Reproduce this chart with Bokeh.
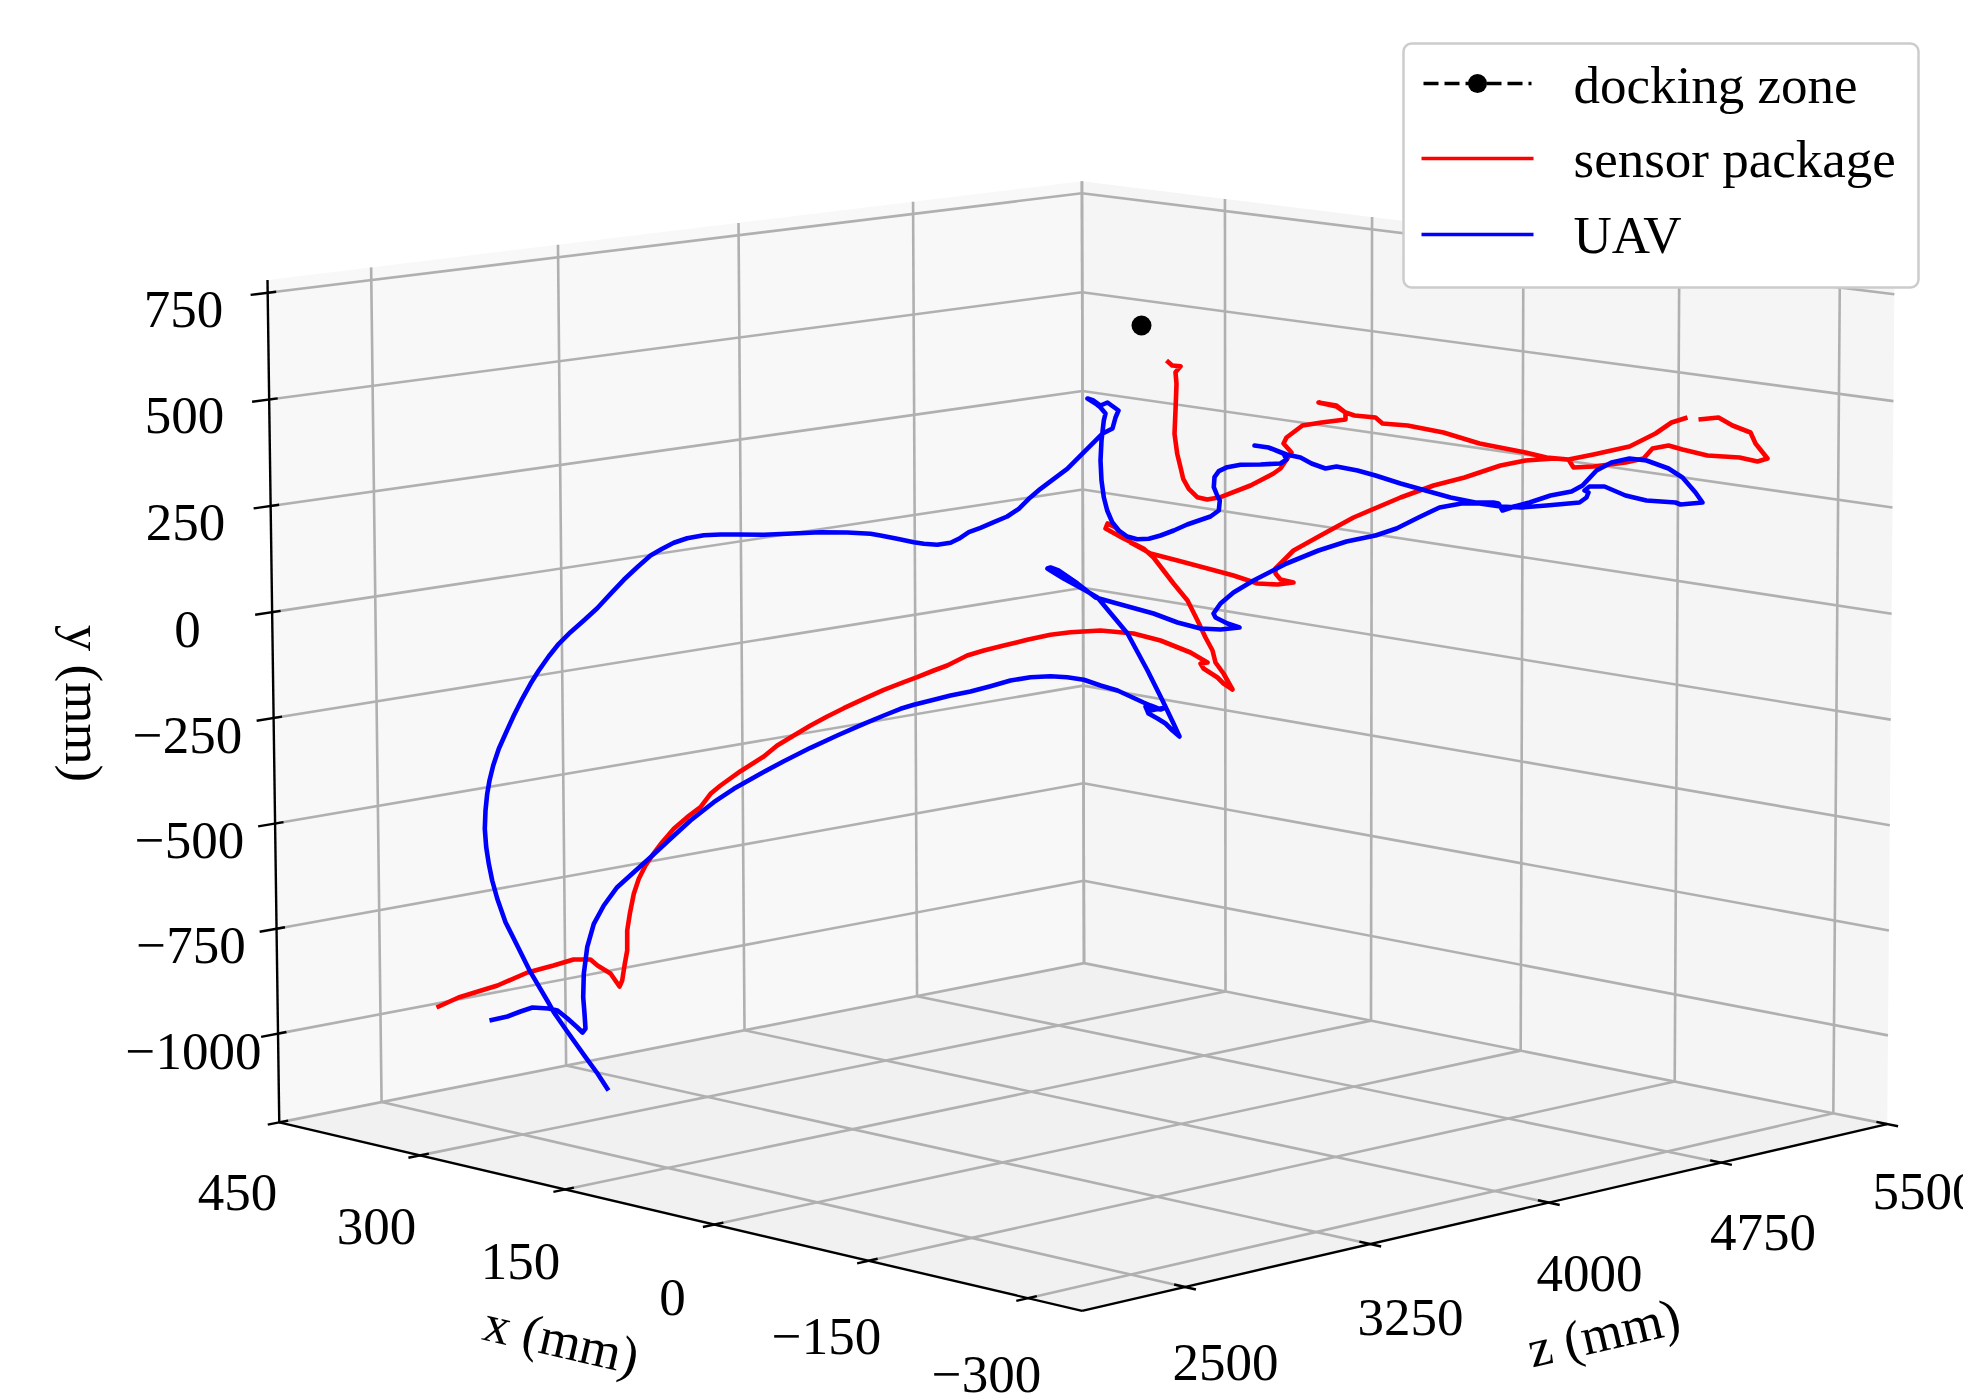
import numpy as np
from bokeh.plotting import figure
from bokeh.models import Range1d
from bokeh.core.properties import value
from bokeh.embed import file_html
from bokeh.resources import INLINE

# ---- tick values (mm) and tick labels
x_ticks = [450, 300, 150, 0, -150, -300]
y_ticks = [750, 500, 250, 0, -250, -500, -750, -1000]
z_ticks = [2500, 3250, 4000, 4750, 5500]
x_labels = ["450", "300", "150", "0", "\u2212150", "\u2212300"]
y_labels = ["750", "500", "250", "0", "\u2212250", "\u2212500", "\u2212750", "\u22121000"]
z_labels = ["2500", "3250", "4000", "4750", "5500"]
series_names = ["docking zone", "sensor package", "UAV"]
x_title, y_title, z_title = "x (mm)", "y (mm)", "z (mm)"

# ---- series, on the drawing plane of the 3-D view
nan = float("nan")
sensor_u = [436,458,497,527,553,573,590,597,610,619,621.7,624,626.7,626.7,629.3,633.3,638.3,645,651.7,661.7,673.3,686.7,700,710,720,740,763.3,776.7,793.3,810,826.7,843.3,863.3,883.3,903.3,916.7,933.3,946.7,966.7,983.3,1003.3,1026.7,1050,1070,1100,1133,1160,1190,1207,1200,1203,1217,1223,1232,1223,1215,1212,1205,1197,1187,1173,1153,1143,1123,1105,1107,1115,1130,1150,1177,1207,1233,1257,1277,1293,1280,1275,1275,1293,1320,1353,1400,1433,1464,1500,1525,1554,1568,1573,1593,1625,1643,1652,1668,1682,1707,1739,1757,1767,1755,1750,1732,1718,1698,nan,1687,1671,1655,1629,1593,1568,1546,1525,1479,1443,1407,1382,1375,1354,1345,1336,1318,1336,1345,1345,1321,1302,1286,1283,1291,1280,1273,1250,1220,1206.7,1196.7,1188.3,1182.7,1180,1176.7,1174,1175,1176,1175,1180,1171.7,1166]
sensor_v = [1007,997,985,972,965,959,959,965,973,986,980,965,950,930,913.3,893.3,878.3,865,855,841.7,828.3,816.7,806.7,793.3,785,770.7,756,745,735,725,716,707.7,698.3,689.3,681.7,676.7,670,665,655,650,645,639.3,634.3,631.7,630,633,640,652,662,663,668,677,683,689,673,662,650,637,620,600,583,557,548,538,528,523,527,542,553,560,568,575,583,584,582,579,573,568,550,535,517,497,485,477,465,460,458,459,467,466,462,458,448,445,449,455,457,461,458,443,432,425,417,419,nan,417,422,433,446,454,459,457,452,443,432,425,423,417,415,412,405,402,406,412,419,422,425,437,443,452,468,473,485,496.7,499,496.7,488.3,478.3,466.7,453.3,433.3,410,383.3,371.7,365.7,365,360]
uav_u = [489,507,520,532,548,557,567,577,582,585,584,582.7,583.3,586.7,593.3,603.3,616.7,633.3,650,670,690,713.3,733.3,760,783.3,810,836.7,863.3,883.3,900,913.3,933.3,950,970,990,1010,1030,1050,1066.7,1083.3,1100,1117,1143,1150,1160,1165,1150,1145,1148,1157,1165,1172,1179,1173,1162,1147,1127,1097,1085,1063,1050,1047,1050,1058,1077,1095,1113,1153,1177,1200,1220,1239,1227,1215,1213,1220,1233,1253,1286,1318,1346,1375,1396,1418,1439,1461,1479,1500,1521,1546,1579,1586,1588,1584,1589,1604,1625,1646,1675,1680,1702,1695,1682,1668,1646,1629,1611,1596,1582,1571,1550,1529,1514,1502,1498,1493,1475,1450,1425,1400,1375,1357,1336,1325,1311,1300,1286,1268,1254,1268,1283,1286,1280,1260,1240,1226.7,1218.3,1214,1213.3,1216.7,1219.3,1218.3,1210,1198.3,1186.7,1173.3,1160,1148.3,1136.7,1126.7,1118.3,1111.7,1106.7,1103.3,1101,1100,1101,1103.3,1105,1100,1095,1087,1093,1100,1107,1118,1115,1112,1101.7,1081.7,1066.7,1053.3,1040,1028.3,1018.3,1006.7,993.3,980,968.3,958.3,950,936.7,923.3,913.3,896.7,880,870,846.7,820,786.7,763.3,736.7,720,703.3,686.7,673.3,661.7,650,636.7,623.3,610,596.7,583.3,570,558.3,548.3,538.3,530,521.7,513.3,505,498.3,492.7,489,486.7,485,484.3,485.7,488.3,491.7,496.7,505,516.7,530,546.7,553.3,566,585,597,608]
uav_v = [1020,1016,1011,1007,1008,1010,1018,1027,1032,1028,1013,996.7,973.3,946.7,923.3,905,886.7,871.7,856.7,838.3,820,801.7,788.3,773.3,760.7,747.3,735,723.3,715,708.3,704.3,699.3,695,691,685.7,680,676.7,675.7,676.7,679.3,685,690,702,705,709,707,710,706,713,718,723,730,736,723,700,670,633,597,590,578,570,568,567,570,583,597,602,613,622,628,629,627,623,617,613,603,592,580,563,550,541,535,528,517,507,503,503,506,507,505,502,497,492,490,486,486,495,500,502,504,502,492,477,468,460,458,462,470,485,491,495,502,506,510,503,502,502,497,490,483,475,470,466,468,463,457,454,447,445,447,453,459,463,464,464.3,466.7,470.7,476.7,486.7,495,500,510,516,520,524,530,535,538.3,538.7,536,530,521.7,510,496.7,480,460,440,420,413,407,403,398,400,405,402,410,417,428,433.3,453.3,468.3,478.3,488.3,498.3,508.3,516,521.7,527.3,531.7,538.3,542.3,544.3,543.3,541.7,538.3,535,533.3,532,531.7,533.3,534.3,534,534,534.7,537.7,542.3,548.3,555,566.7,579.3,593.3,607.7,620,631.7,643.3,655.7,670,683.3,698.3,715,733.3,748.3,765,780,793.3,810,828.3,846.7,863.3,880,898,921.7,945,971.7,1000,1011.7,1030,1056.7,1073,1090]
dock_u = [1141]
dock_v = [325]

# ---- box limits of the 3-D axes (mm)
x_lo, x_hi = -350.0, 450.0
y_lo, y_hi = -1212.0, 780.0
z_lo, z_hi = 2095.0, 5500.0

# ---- camera of the 3-D view, calibrated on where the box and ticks fall
anchors = [
    (x_hi, y_lo, z_lo, 281, 1122), (x_hi, y_hi, z_lo, 267, 278), (x_lo, y_lo, z_lo, 1080, 1310),
    (x_lo, y_lo, z_hi, 1883, 1122), (x_lo, y_hi, z_hi, 1895, 280), (x_hi, y_lo, z_hi, 1082, 962),
    (x_hi, y_hi, z_hi, 1082, 182),
]
for t, u, v in zip(x_ticks[1:], [419, 565, 714, 870, 1029], [1156, 1190, 1225, 1262, 1300]):
    anchors.append((t, y_lo, z_lo, u, v))
for t, u, v in zip(x_ticks[1:], [1226, 1373, 1524, 1680, 1833], [991, 1020, 1050, 1082, 1112]):
    anchors.append((t, y_lo, z_hi, u, v))
for t, u, v in zip(z_ticks[:4], [1184, 1367, 1545, 1720], [1287, 1243, 1202, 1161]):
    anchors.append((x_lo, y_lo, t, u, v))
for t, u, v in zip(z_ticks[:4], [379, 563, 744, 915], [1102, 1066, 1029.5, 995]):
    anchors.append((x_hi, y_lo, t, u, v))
for t, u, v in zip(z_ticks[:4], [368, 556, 737, 913], [266, 244, 223, 202]):
    anchors.append((x_hi, y_hi, t, u, v))
for t, u, v in zip(y_ticks, [268, 269, 271, 272.5, 274, 275.5, 277, 279], [291, 398.5, 505, 611, 717, 822.6, 928, 1032]):
    anchors.append((x_hi, t, z_lo, u, v))
for t, v in zip(y_ticks, [195, 293, 391, 489, 588, 685, 782, 879]):
    anchors.append((x_hi, t, z_hi, 1082, v))

rows = []
for X, Y, Z, u, v in anchors:
    P3 = [X / 1000, Y / 1000, Z / 1000, 1]
    U, V = u / 1000, v / 1000
    rows.append(P3 + [0, 0, 0, 0] + [-U * c for c in P3])
    rows.append([0, 0, 0, 0] + P3 + [-V * c for c in P3])
camera = np.linalg.svd(np.array(rows))[2][-1].reshape(3, 4)


def project(X, Y, Z):
    h = camera @ np.array([X / 1000, Y / 1000, Z / 1000, 1.0])
    return 1000 * h[0] / h[2], 1000 * h[1] / h[2]


def seg(a, b):
    pa, pb = project(*a), project(*b)
    return [pa[0], pb[0]], [pa[1], pb[1]]


def pane(*corners):
    pts = [project(*c) for c in corners]
    return [q[0] for q in pts], [q[1] for q in pts]


p = figure(width=1963, height=1398, x_range=Range1d(0, 1963), y_range=Range1d(1398, 0),
           output_backend="svg", toolbar_location=None, min_border=0,
           background_fill_color="white", border_fill_color="white", outline_line_color=None)
p.axis.visible = False
p.grid.visible = False

FONT = value("Liberation Serif")
SIZE = value("53px")

# panes
for corners, col in [
    (((x_hi, y_lo, z_lo), (x_hi, y_hi, z_lo), (x_hi, y_hi, z_hi), (x_hi, y_lo, z_hi)), "#f8f8f8"),
    (((x_hi, y_lo, z_hi), (x_hi, y_hi, z_hi), (x_lo, y_hi, z_hi), (x_lo, y_lo, z_hi)), "#f5f5f5"),
    (((x_hi, y_lo, z_lo), (x_lo, y_lo, z_lo), (x_lo, y_lo, z_hi), (x_hi, y_lo, z_hi)), "#f1f1f1"),
]:
    xs, ys = pane(*corners)
    p.patch(xs, ys, fill_color=col, line_color=None)

# grid lines
gx, gy = [], []
for t in x_ticks:
    for a, b in [((t, y_lo, z_lo), (t, y_lo, z_hi)), ((t, y_lo, z_hi), (t, y_hi, z_hi))]:
        s = seg(a, b); gx.append(s[0]); gy.append(s[1])
for t in y_ticks:
    for a, b in [((x_hi, t, z_lo), (x_hi, t, z_hi)), ((x_hi, t, z_hi), (x_lo, t, z_hi))]:
        s = seg(a, b); gx.append(s[0]); gy.append(s[1])
for t in z_ticks:
    for a, b in [((x_lo, y_lo, t), (x_hi, y_lo, t)), ((x_hi, y_lo, t), (x_hi, y_hi, t))]:
        s = seg(a, b); gx.append(s[0]); gy.append(s[1])
p.multi_line(gx, gy, line_color="#b0b0b0", line_width=2.6)

# axis lines and ticks
ax, ay = [], []
for a, b in [((x_hi, y_lo, z_lo), (x_hi, y_hi, z_lo)), ((x_hi, y_lo, z_lo), (x_lo, y_lo, z_lo)), ((x_lo, y_lo, z_lo), (x_lo, y_lo, z_hi))]:
    s = seg(a, b); ax.append(s[0]); ay.append(s[1])
for t in x_ticks:
    s = seg((t, y_lo, z_lo - 45), (t, y_lo, z_lo + 35)); ax.append(s[0]); ay.append(s[1])
for t in y_ticks:
    s = seg((x_hi, t, z_lo - 66), (x_hi, t, z_lo + 33)); ax.append(s[0]); ay.append(s[1])
for t in z_ticks:
    s = seg((x_lo - 10, y_lo, t), (x_lo + 10, y_lo, t)); ax.append(s[0]); ay.append(s[1])
p.multi_line(ax, ay, line_color="black", line_width=2.4)

# series
p.line(sensor_u, sensor_v, line_color="#ff0000", line_width=4.6, line_join="round")
p.line(uav_u, uav_v, line_color="#0000ff", line_width=4.6, line_join="round")
p.scatter(dock_u, dock_v, size=20, marker="circle", fill_color="black", line_color="black", line_width=0)


def labels(us, vs, texts, angle=0.0):
    p.text(us, vs, text=texts, text_font=FONT, text_font_size=SIZE, text_color="black",
           text_align="center", text_baseline="middle", angle=angle)


# tick labels and axis titles
labels([237, 376, 520, 672, 826, 986], [1192, 1226, 1261, 1297, 1336, 1374], x_labels)
labels([183, 184, 185, 187, 187, 189, 190.5, 193], [309, 415, 522, 629, 735, 840, 945, 1051], y_labels)
labels([1225, 1410, 1589, 1762.5, 1925], [1362, 1317, 1273, 1232, 1191], z_labels)
labels([561], [1339], [x_title], angle=np.radians(-13))
labels([83], [703], [y_title], angle=np.radians(-90))
labels([1603], [1332], [z_title], angle=np.radians(13))

# legend
p.quad(left=[1403], right=[1918], top=[43], bottom=[287], fill_color="white", line_color="#cccccc",
       line_width=2.5, border_radius=8)
p.line([1423, 1531], [83, 83], line_color="black", line_width=3.4, line_dash="15 6")
p.scatter([1477], [83], size=19, marker="circle", fill_color="black", line_color="black", line_width=0)
p.line([1421, 1533], [158, 158], line_color="#ff0000", line_width=3.6)
p.line([1421, 1533], [234, 234], line_color="#0000ff", line_width=3.6)
p.text([1573, 1573, 1573], [84, 158, 234], text=series_names, text_font=FONT, text_font_size=SIZE,
       text_color="black", text_align="left", text_baseline="middle")

open("out.html", "w").write(file_html(p, INLINE))
